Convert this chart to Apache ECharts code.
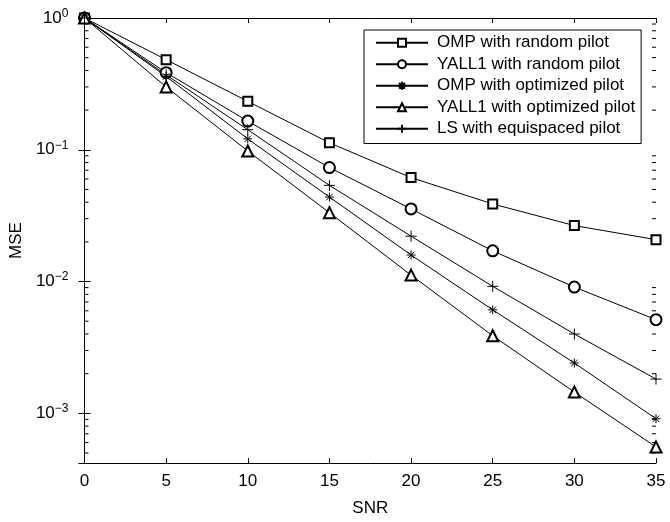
<!DOCTYPE html>
<html>
<head>
<meta charset="utf-8">
<script src="https://cdn.jsdelivr.net/npm/echarts@6/dist/echarts.min.js"></script>
<style>
html,body{margin:0;padding:0;background:#fff;}
#chart{width:670px;height:522px;}
</style>
</head>
<body>
<div id="chart"></div>
<script>
const snr = [0, 5, 10, 15, 20, 25, 30, 35];
const ompRandom   = [1, 0.483, 0.233, 0.113, 0.0615, 0.0388, 0.0266, 0.0208];
const yall1Random = [1, 0.385, 0.165, 0.0733, 0.0356, 0.0171, 0.00908, 0.00514];
const ompOpt      = [1, 0.360, 0.121, 0.0438, 0.0159, 0.0061, 0.00241, 0.00091];
const yall1Opt    = [1, 0.300, 0.098, 0.0333, 0.0112, 0.00388, 0.00145, 0.000556];
const lsEqui      = [1, 0.370, 0.142, 0.0537, 0.0221, 0.0092, 0.0040, 0.00182];
const seriesNames = ['OMP with random pilot', 'YALL1 with random pilot', 'OMP with optimized pilot', 'YALL1 with optimized pilot', 'LS with equispaced pilot'];
const yMin = 4.2e-4, yMax = 1;

const minorVals = [];
for (let n = -4; n <= -1; n++) {
  for (let k = 2; k <= 9; k++) {
    const v = k * Math.pow(10, n);
    if (v > yMin && v < yMax) minorVals.push(v);
  }
}

const FONT = 'Liberation Sans';
const STAR = 'path://M0,-1L0,1M-1,0L1,0M-0.72,-0.72L0.72,0.72M-0.72,0.72L0.72,-0.72';
const PLUS = 'path://M0,-1L0,1M-1,0L1,0';

function mk(name, vals, symbol, size) {
  return {
    name: name, type: 'line', data: snr.map((x, i) => [x, vals[i]]),
    symbol: symbol, symbolSize: size, showAllSymbol: true,
    lineStyle: {color: '#000', width: 1},
    itemStyle: {color: '#000', borderColor: '#000', borderWidth: 1},
    emphasis: {disabled: true}, animation: false, z: 3
  };
}

const chart = echarts.init(document.getElementById('chart'), null, {renderer: 'canvas'});
const supFmt = function (value) {
  const l = Math.log10(value);
  const e = Math.round(l);
  if (Math.abs(l - e) > 1e-6) return '';
  return '{b|10}{s|' + (e < 0 ? '\u2212' + (-e) : e) + '}';
};
chart.setOption({
  animation: false,
  backgroundColor: '#fff',
  textStyle: {fontFamily: FONT},
  grid: {left: 76, right: 14, top: 18, bottom: 44, containLabel: false},
  legend: {
    data: seriesNames, orient: 'vertical', left: 364, top: 30,
    padding: [2, 6, 4, 11], itemGap: 0, itemWidth: 52, itemHeight: 10,
    borderColor: '#000', borderWidth: 1, backgroundColor: '#fff',
    textStyle: {fontFamily: FONT, fontSize: 17, color: '#000', lineHeight: 21.5, padding: [0, 0, 0, 4]},
    selectedMode: false
  },
  xAxis: [{
    type: 'value', min: 0, max: 35, interval: 5, position: 'bottom',
    name: 'SNR', nameLocation: 'middle', nameGap: 37,
    nameTextStyle: {fontFamily: FONT, fontSize: 17, color: '#000'},
    axisLine: {lineStyle: {color: '#000', width: 1}},
    axisTick: {inside: true, length: 5, lineStyle: {color: '#000'}},
    axisLabel: {fontFamily: FONT, fontSize: 17, color: '#000', margin: 10},
    splitLine: {show: false}
  }, {
    type: 'value', min: 0, max: 35, interval: 5, position: 'top',
    axisLine: {lineStyle: {color: '#000', width: 1}},
    axisTick: {inside: true, length: 5, lineStyle: {color: '#000'}},
    axisLabel: {show: false}, splitLine: {show: false}
  }],
  yAxis: [{
    type: 'log', logBase: 10, min: yMin, max: yMax, position: 'left',
    name: 'MSE', nameLocation: 'middle', nameGap: 58, nameRotate: 90,
    nameTextStyle: {fontFamily: FONT, fontSize: 17, color: '#000'},
    axisLine: {show: true, lineStyle: {color: '#000', width: 1}},
    axisTick: {inside: true, length: 6, lineStyle: {color: '#000'}},
    axisLabel: {
      formatter: supFmt, showMinLabel: false, margin: 16,
      rich: {
        b: {fontFamily: FONT, fontSize: 17, color: '#000'},
        s: {fontFamily: FONT, fontSize: 12, color: '#000', verticalAlign: 'bottom', padding: [0, 0, 9, 0]}
      }
    },
    splitLine: {show: false}
  }, {
    type: 'log', logBase: 10, min: yMin, max: yMax, position: 'right',
    axisLine: {show: true, lineStyle: {color: '#000', width: 1}},
    axisTick: {inside: true, length: 6, lineStyle: {color: '#000'}},
    axisLabel: {show: false}, splitLine: {show: false}
  }],
  series: [
    mk(seriesNames[0], ompRandom, 'emptyRect', 9),
    mk(seriesNames[1], yall1Random, 'emptyCircle', 11),
    mk(seriesNames[2], ompOpt, STAR, 9),
    mk(seriesNames[3], yall1Opt, 'emptyTriangle', 11),
    mk(seriesNames[4], lsEqui, PLUS, 11),
    {
      type: 'custom', silent: true, animation: false, z: 2, clip: false,
      data: minorVals.map(v => [0, v]),
      renderItem: function (params, api) {
        const y = api.coord([0, api.value(1)])[1];
        const cs = params.coordSys;
        return {
          type: 'group', children: [
            {type: 'line', shape: {x1: cs.x, y1: y, x2: cs.x + 4, y2: y}, style: {stroke: '#000', lineWidth: 1}},
            {type: 'line', shape: {x1: cs.x + cs.width - 4, y1: y, x2: cs.x + cs.width, y2: y}, style: {stroke: '#000', lineWidth: 1}}
          ]
        };
      }
    }
  ]
});
</script>
</body>
</html>
